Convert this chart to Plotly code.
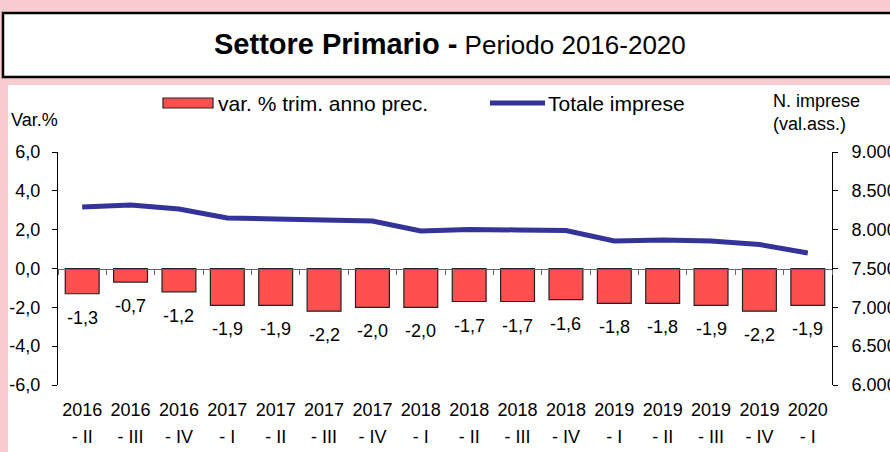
import plotly.graph_objects as go

categories = ["2016 - II", "2016 - III", "2016 - IV", "2017 - I", "2017 - II", "2017 - III", "2017 - IV",
              "2018 - I", "2018 - II", "2018 - III", "2018 - IV", "2019 - I", "2019 - II", "2019 - III",
              "2019 - IV", "2020 - I"]
year_labels = ["2016", "2016", "2016", "2017", "2017", "2017", "2017", "2018", "2018", "2018", "2018",
               "2019", "2019", "2019", "2019", "2020"]
quarter_labels = ["- II", "- III", "- IV", "- I", "- II", "- III", "- IV", "- I", "- II", "- III", "- IV",
                  "- I", "- II", "- III", "- IV", "- I"]
var_pct = [-1.3, -0.7, -1.2, -1.9, -1.9, -2.2, -2.0, -2.0, -1.7, -1.7, -1.6, -1.8, -1.8, -1.9, -2.2, -1.9]
totale_imprese = [8292, 8318, 8267, 8150, 8138, 8125, 8112, 7983, 8003, 7996, 7990, 7854, 7867, 7854, 7809, 7700]
left_ticks = [-6, -4, -2, 0, 2, 4, 6]
left_tick_labels = ["-6,0", "-4,0", "-2,0", "0,0", "2,0", "4,0", "6,0"]
right_ticks = [6000, 6500, 7000, 7500, 8000, 8500, 9000]
right_tick_labels = ["6.000", "6.500", "7.000", "7.500", "8.000", "8.500", "9.000"]

W, H = 890, 452
ML, MR, MT, MB = 58, 58, 152, 67
PW, PH = W - ML - MR, H - MT - MB

def px(x):
    return (x - ML) / PW

def py(y):
    return (H - MB - y) / PH

FONT = "Liberation Sans, Arial, sans-serif"
PINK = "#F8CCD1"
RED = "#FF5050"
NAVY = "#333399"

fig = go.Figure()
fig.add_trace(go.Bar(x=categories, y=var_pct, marker=dict(color=RED, line=dict(color="#222222", width=1.2)),
                     name="var. % trim. anno prec.", showlegend=False, hoverinfo="skip"))
fig.add_trace(go.Scatter(x=categories, y=totale_imprese, yaxis="y2", mode="lines",
                         line=dict(color=NAVY, width=5), name="Totale imprese", showlegend=False))
fig.add_trace(go.Scatter(x=categories, y=var_pct, xaxis="x2", mode="markers",
                         marker=dict(opacity=0), showlegend=False, hoverinfo="skip"))
fig.add_trace(go.Scatter(x=categories, y=var_pct, xaxis="x3", mode="markers",
                         marker=dict(opacity=0), showlegend=False, hoverinfo="skip"))

annotations = []
for c, v in zip(categories, var_pct):
    annotations.append(dict(x=c, y=v, xref="x", yref="y", text=f"{v:.1f}".replace(".", ","),
                            showarrow=False, yanchor="middle", yshift=-24,
                            font=dict(family=FONT, size=18, color="black")))

annotations += [
    dict(x=px(450), y=py(44), xref="paper", yref="paper", showarrow=False, xanchor="center", yanchor="middle",
         text="<b><span style='font-size:29px'>Settore Primario -</span></b> <span style='font-size:26px'>Periodo 2016-2020</span>",
         font=dict(family=FONT, size=26, color="black")),
    dict(x=px(9), y=py(120), xref="paper", yref="paper", showarrow=False, xanchor="left", yanchor="middle",
         text="Var.%", font=dict(family=FONT, size=18, color="black")),
    dict(x=px(771), y=py(113), xref="paper", yref="paper", showarrow=False, xanchor="left", yanchor="middle",
         align="left", text="N. imprese<br>(val.ass.)", font=dict(family=FONT, size=18, color="black")),
    dict(x=px(216), y=py(103), xref="paper", yref="paper", showarrow=False, xanchor="left", yanchor="middle",
         text="var. % trim. anno prec.", font=dict(family=FONT, size=21, color="black")),
    dict(x=px(546), y=py(103), xref="paper", yref="paper", showarrow=False, xanchor="left", yanchor="middle",
         text="Totale imprese", font=dict(family=FONT, size=21, color="black")),
]

shapes = [
    dict(type="rect", xref="paper", yref="paper", x0=px(8), x1=px(900), y0=py(85), y1=py(460),
         fillcolor="white", line=dict(width=0), layer="below"),
    dict(type="rect", xref="paper", yref="paper", x0=px(3), x1=px(900), y0=py(13), y1=py(77),
         fillcolor="white", line=dict(width=2.5, color="black"), layer="below"),
    dict(type="rect", xref="paper", yref="paper", x0=px(163), x1=px(213), y0=py(98), y1=py(108),
         fillcolor=RED, line=dict(width=1.2, color="#222222")),
    dict(type="line", xref="paper", yref="paper", x0=px(490), x1=px(545), y0=py(103), y1=py(103),
         line=dict(width=5, color=NAVY)),
]

cat_common = dict(type="category", categoryorder="array", categoryarray=categories, range=[-0.5, 15.5],
                  showgrid=False, zeroline=False, automargin=False)

fig.update_layout(
    width=W, height=H, autosize=False, margin=dict(l=ML, r=MR, t=MT, b=MB, pad=0, autoexpand=False),
    paper_bgcolor=PINK, plot_bgcolor="white", separators=",.",
    font=dict(family=FONT, size=18, color="black"),
    bargap=0.3, showlegend=False,
    annotations=annotations, shapes=shapes,
    xaxis=dict(**cat_common, showline=False, ticks="", tickvals=categories, ticktext=year_labels,
               tickfont=dict(family=FONT, size=18, color="black"), ticklabelstandoff=12),
    xaxis3=dict(**cat_common, overlaying="x", anchor="y", side="bottom", showline=False, ticks="",
                tickvals=categories, ticktext=quarter_labels,
                tickfont=dict(family=FONT, size=18, color="black"), ticklabelstandoff=39),
    xaxis2=dict(**cat_common, overlaying="x", anchor="free", position=0.5, side="bottom",
                showline=True, linecolor="#666666", linewidth=1, ticks="outside", tickson="boundaries",
                ticklen=5, tickcolor="#666666", showticklabels=False),
    yaxis=dict(range=[-6, 6], tickvals=left_ticks, ticktext=left_tick_labels, showline=True, linecolor="black",
               linewidth=1, ticks="outside", ticklen=5, tickcolor="black", showgrid=False, zeroline=False,
               automargin=False,
               tickfont=dict(family=FONT, size=18, color="black"), ticklabelstandoff=8),
    yaxis2=dict(range=[6000, 9000], tickvals=right_ticks, ticktext=right_tick_labels, overlaying="y", side="right",
                showline=True, linecolor="black", linewidth=1, ticks="outside", ticklen=5, tickcolor="black",
                showgrid=False, zeroline=False, automargin=False,
                tickfont=dict(family=FONT, size=18, color="black"),
                ticklabelstandoff=10),
)

fig.write_html("out.html", config={"responsive": False, "displayModeBar": False},
               post_script="document.body.style.margin='0';document.body.style.overflow='hidden';")
